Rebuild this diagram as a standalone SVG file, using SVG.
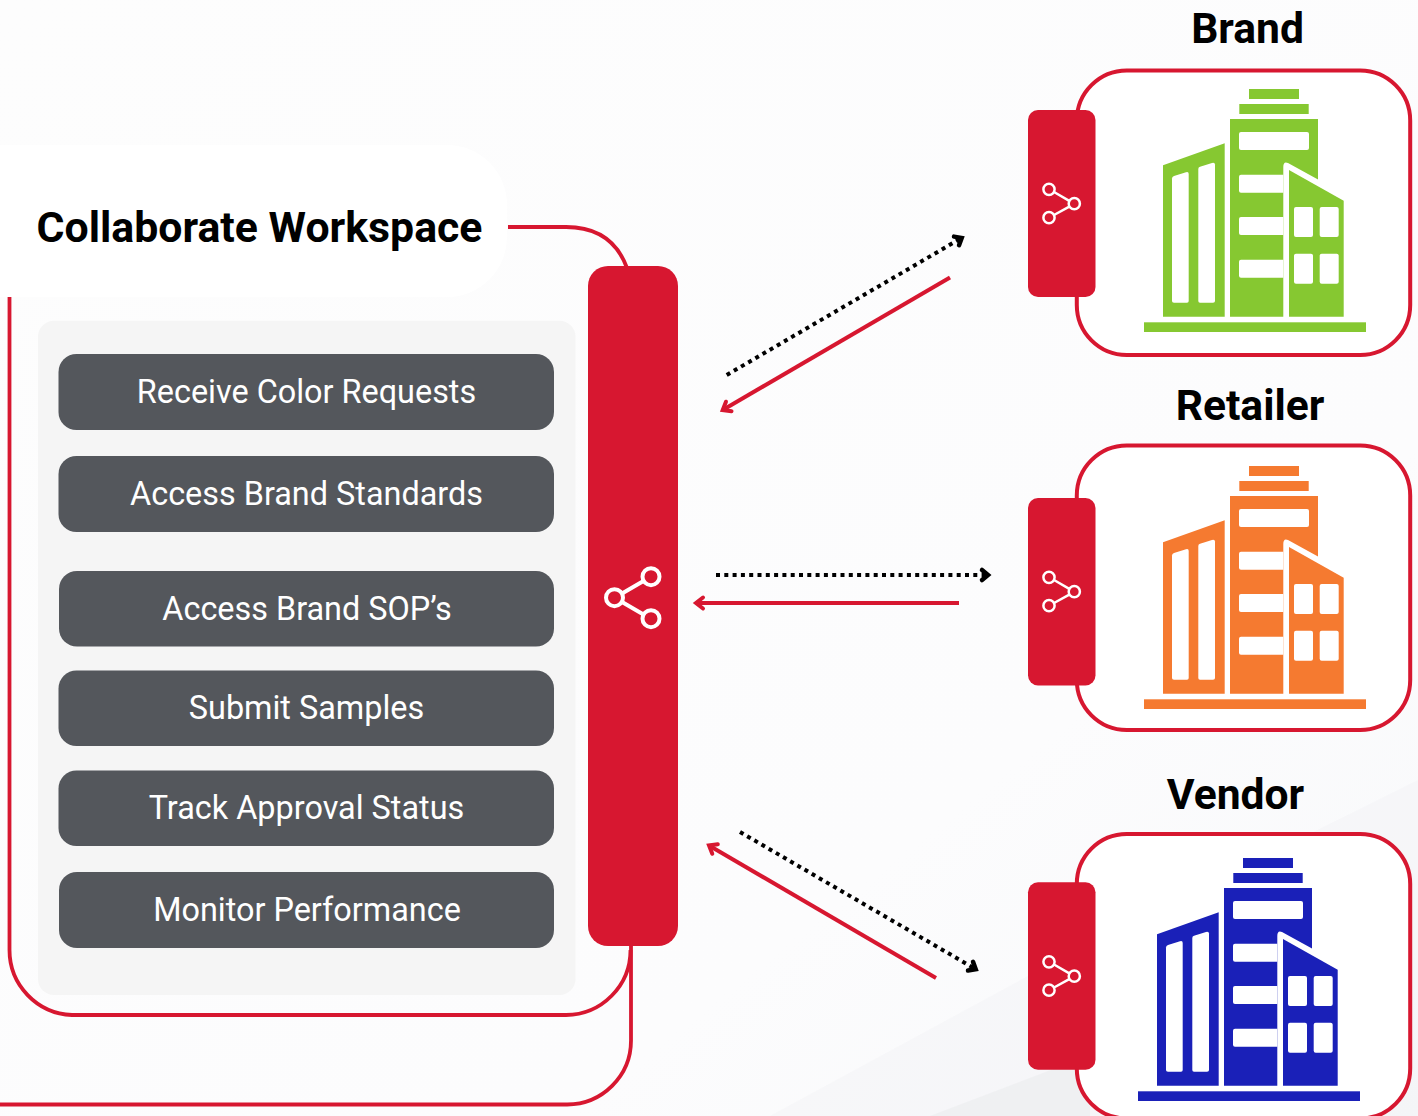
<svg xmlns="http://www.w3.org/2000/svg" width="1418" height="1116" viewBox="0 0 1418 1116">
<style>
text{font-family:Roboto,"Liberation Sans",sans-serif}
.h{font-size:42.600px;font-weight:700;fill:#000;text-anchor:middle}
.b{font-size:32.400px;fill:#fff;text-anchor:middle}
.btn{fill:#54575c}
.card{fill:#fff;stroke:#d71730;stroke-width:4}
.tab{fill:#d71730}
.line{fill:none;stroke:#d71730;stroke-width:3.800}
.dot{fill:none;stroke:#000;stroke-width:4;stroke-dasharray:4 4.300}
.red{fill:none;stroke:#d71730;stroke-width:4;marker-end:url(#ar)}
.blk{marker-end:url(#ab)}
.ic{fill:none;stroke:#fff;stroke-width:2.500}
.w{fill:#fff}
</style>
<defs>
<linearGradient id="bg" x1="0" y1="0" x2="1" y2="1"><stop offset="0" stop-color="#fdfdfd"/><stop offset="0.7" stop-color="#fcfcfd"/><stop offset="1" stop-color="#f7f8fa"/></linearGradient>
<marker id="ar" markerUnits="userSpaceOnUse" markerWidth="24" markerHeight="24" refX="14" refY="12" orient="auto"><path d="M7,6.500 L14,12 L7,17.500" fill="none" stroke="#d71730" stroke-width="4" stroke-linecap="round"/></marker>
<marker id="ab" markerUnits="userSpaceOnUse" markerWidth="24" markerHeight="24" refX="14" refY="12" orient="auto"><path d="M8,7 L14,12 L8,17" fill="none" stroke="#000" stroke-width="4.500" stroke-linecap="round"/></marker>
<g id="bld">
<rect x="1249" y="89" width="50" height="10"/>
<rect x="1239.300" y="104" width="69.400" height="10"/>
<path d="M1230,119H1318V179.500L1288,163Q1283.300,161 1283.300,167V316.700H1230Z"/>
<path d="M1163,165.300L1224.700,143.300V316.700H1163Z"/>
<path d="M1289,170L1343.700,200.700V316.700H1289Z"/>
<rect x="1144" y="322.300" width="222" height="9.700"/>
<rect class="w" x="1239" y="132" width="70" height="18" rx="2"/>
<path class="w" d="M1241,174.700H1283.300V192.700H1241Q1239,192.700 1239,190.700V176.700Q1239,174.700 1241,174.700Z"/>
<path class="w" d="M1241,217H1283.300V235H1241Q1239,235 1239,233V219Q1239,217 1241,217Z"/>
<path class="w" d="M1241,259.700H1283.300V277.700H1241Q1239,277.700 1239,275.700V261.700Q1239,259.700 1241,259.700Z"/>
<path class="w" d="M1172,178.500Q1172,176.700 1174,176L1186,172.300Q1188.700,171.500 1188.700,174V301Q1188.700,302.700 1187,302.700H1174Q1172,302.700 1172,301Z"/>
<path class="w" d="M1198.300,169Q1198.300,167.300 1200,166.700L1212,163Q1215,162.300 1215,164.500V301Q1215,302.700 1213,302.700H1200Q1198.300,302.700 1198.300,301Z"/>
<rect class="w" x="1294" y="207" width="19" height="30" rx="2"/>
<rect class="w" x="1319.700" y="207" width="19" height="30" rx="2"/>
<rect class="w" x="1294" y="253.700" width="19" height="30" rx="2"/>
<rect class="w" x="1319.700" y="253.700" width="19" height="30" rx="2"/>
</g>
<g id="share">
<circle class="ic" cx="1049" cy="189.300" r="5.600"/>
<circle class="ic" cx="1074.300" cy="203.700" r="5.600"/>
<circle class="ic" cx="1049" cy="217.700" r="5.600"/>
<path class="ic" d="M1054,192L1069.300,200.800M1069.300,206.600L1054,215"/>
</g>
</defs>
<rect width="1418" height="1116" fill="url(#bg)"/>
<path d="M770,1116L1076,950L1418,780V1116Z" fill="#eef0f2" opacity="0.3"/>
<path d="M930,1116L1090,1055V1116Z" fill="#eceef0" opacity="0.7"/>
<rect x="-60" y="145" width="567" height="152" rx="60" fill="#fff"/>
<g id="workspace">
<path class="line" d="M631,945V1040A64,64 0 0 1 566,1104.500H0"/>
<path class="line" d="M9.500,297V950A65,65 0 0 0 72,1015H566A65,65 0 0 0 630.500,950"/>
<path class="line" d="M508,227H566Q612,227 627,268"/>
<rect x="38" y="320.700" width="537.500" height="674.300" rx="16" fill="#f5f5f5"/>
</g>
<g id="workspace-title"><text class="h" style="font-size:42.800px" x="259.500" y="242">Collaborate Workspace</text></g>
<g id="item-1"><rect class="btn" x="58.500" y="354" width="495.500" height="76" rx="18"/><text class="b" x="306.500" y="402.500">Receive Color Requests</text></g>
<g id="item-2"><rect class="btn" x="58.500" y="456" width="495.500" height="76" rx="18"/><text class="b" x="306.500" y="504.500">Access Brand Standards</text></g>
<g id="item-3"><rect class="btn" x="59" y="571" width="495" height="75.500" rx="18"/><text class="b" x="307" y="619.500">Access Brand SOP’s</text></g>
<g id="item-4"><rect class="btn" x="58.500" y="670.500" width="495.500" height="75.500" rx="18"/><text class="b" x="306.500" y="718.500">Submit Samples</text></g>
<g id="item-5"><rect class="btn" x="58.500" y="770.500" width="495.500" height="75.500" rx="18"/><text class="b" x="306.500" y="818.500">Track Approval Status</text></g>
<g id="item-6"><rect class="btn" x="59" y="872" width="495" height="76" rx="18"/><text class="b" x="307" y="920.500">Monitor Performance</text></g>
<g id="hub">
<rect class="tab" x="588" y="266" width="90" height="680" rx="20"/>
<g fill="none" stroke="#fff" stroke-width="4"><circle cx="651" cy="576.700" r="8.500"/><circle cx="614.500" cy="597.700" r="8.500"/><circle cx="651" cy="618.700" r="8.500"/><path d="M622,593.500L643.500,581M622,602L643.500,614.500"/></g>
</g>
<g id="connectors">
<path class="dot blk" d="M726.700,375L961.700,237.900"/>
<path class="red" d="M950,277.400L722.700,410"/>
<path class="dot blk" d="M716,575H988"/>
<path class="red" d="M959,603H696"/>
<path class="dot blk" d="M740,832L975.700,969.200"/>
<path class="red" d="M936,978L709,845.500"/>
</g>
<g id="brand">
<text class="h" x="1247.500" y="43">Brand</text>
<rect class="card" x="1076.800" y="70.500" width="333.400" height="284.500" rx="50"/>
<rect class="tab" x="1028" y="110" width="67.500" height="187" rx="10"/>
<use href="#share"/>
<use href="#bld" fill="#86c831"/>
</g>
<g id="retailer">
<text class="h" x="1250" y="420">Retailer</text>
<rect class="card" x="1076.800" y="445.500" width="333.400" height="284.500" rx="50"/>
<rect class="tab" x="1028" y="498" width="67.500" height="187.500" rx="10"/>
<use href="#share" y="388"/>
<use href="#bld" y="377" fill="#f57a30"/>
</g>
<g id="vendor">
<text class="h" x="1235.500" y="809">Vendor</text>
<rect class="card" x="1076.800" y="834" width="333.400" height="284.500" rx="50"/>
<rect class="tab" x="1028" y="882.300" width="67.500" height="187.400" rx="10"/>
<use href="#share" y="772.500"/>
<use href="#bld" x="-6" y="769" fill="#1a20b8"/>
</g>
</svg>
